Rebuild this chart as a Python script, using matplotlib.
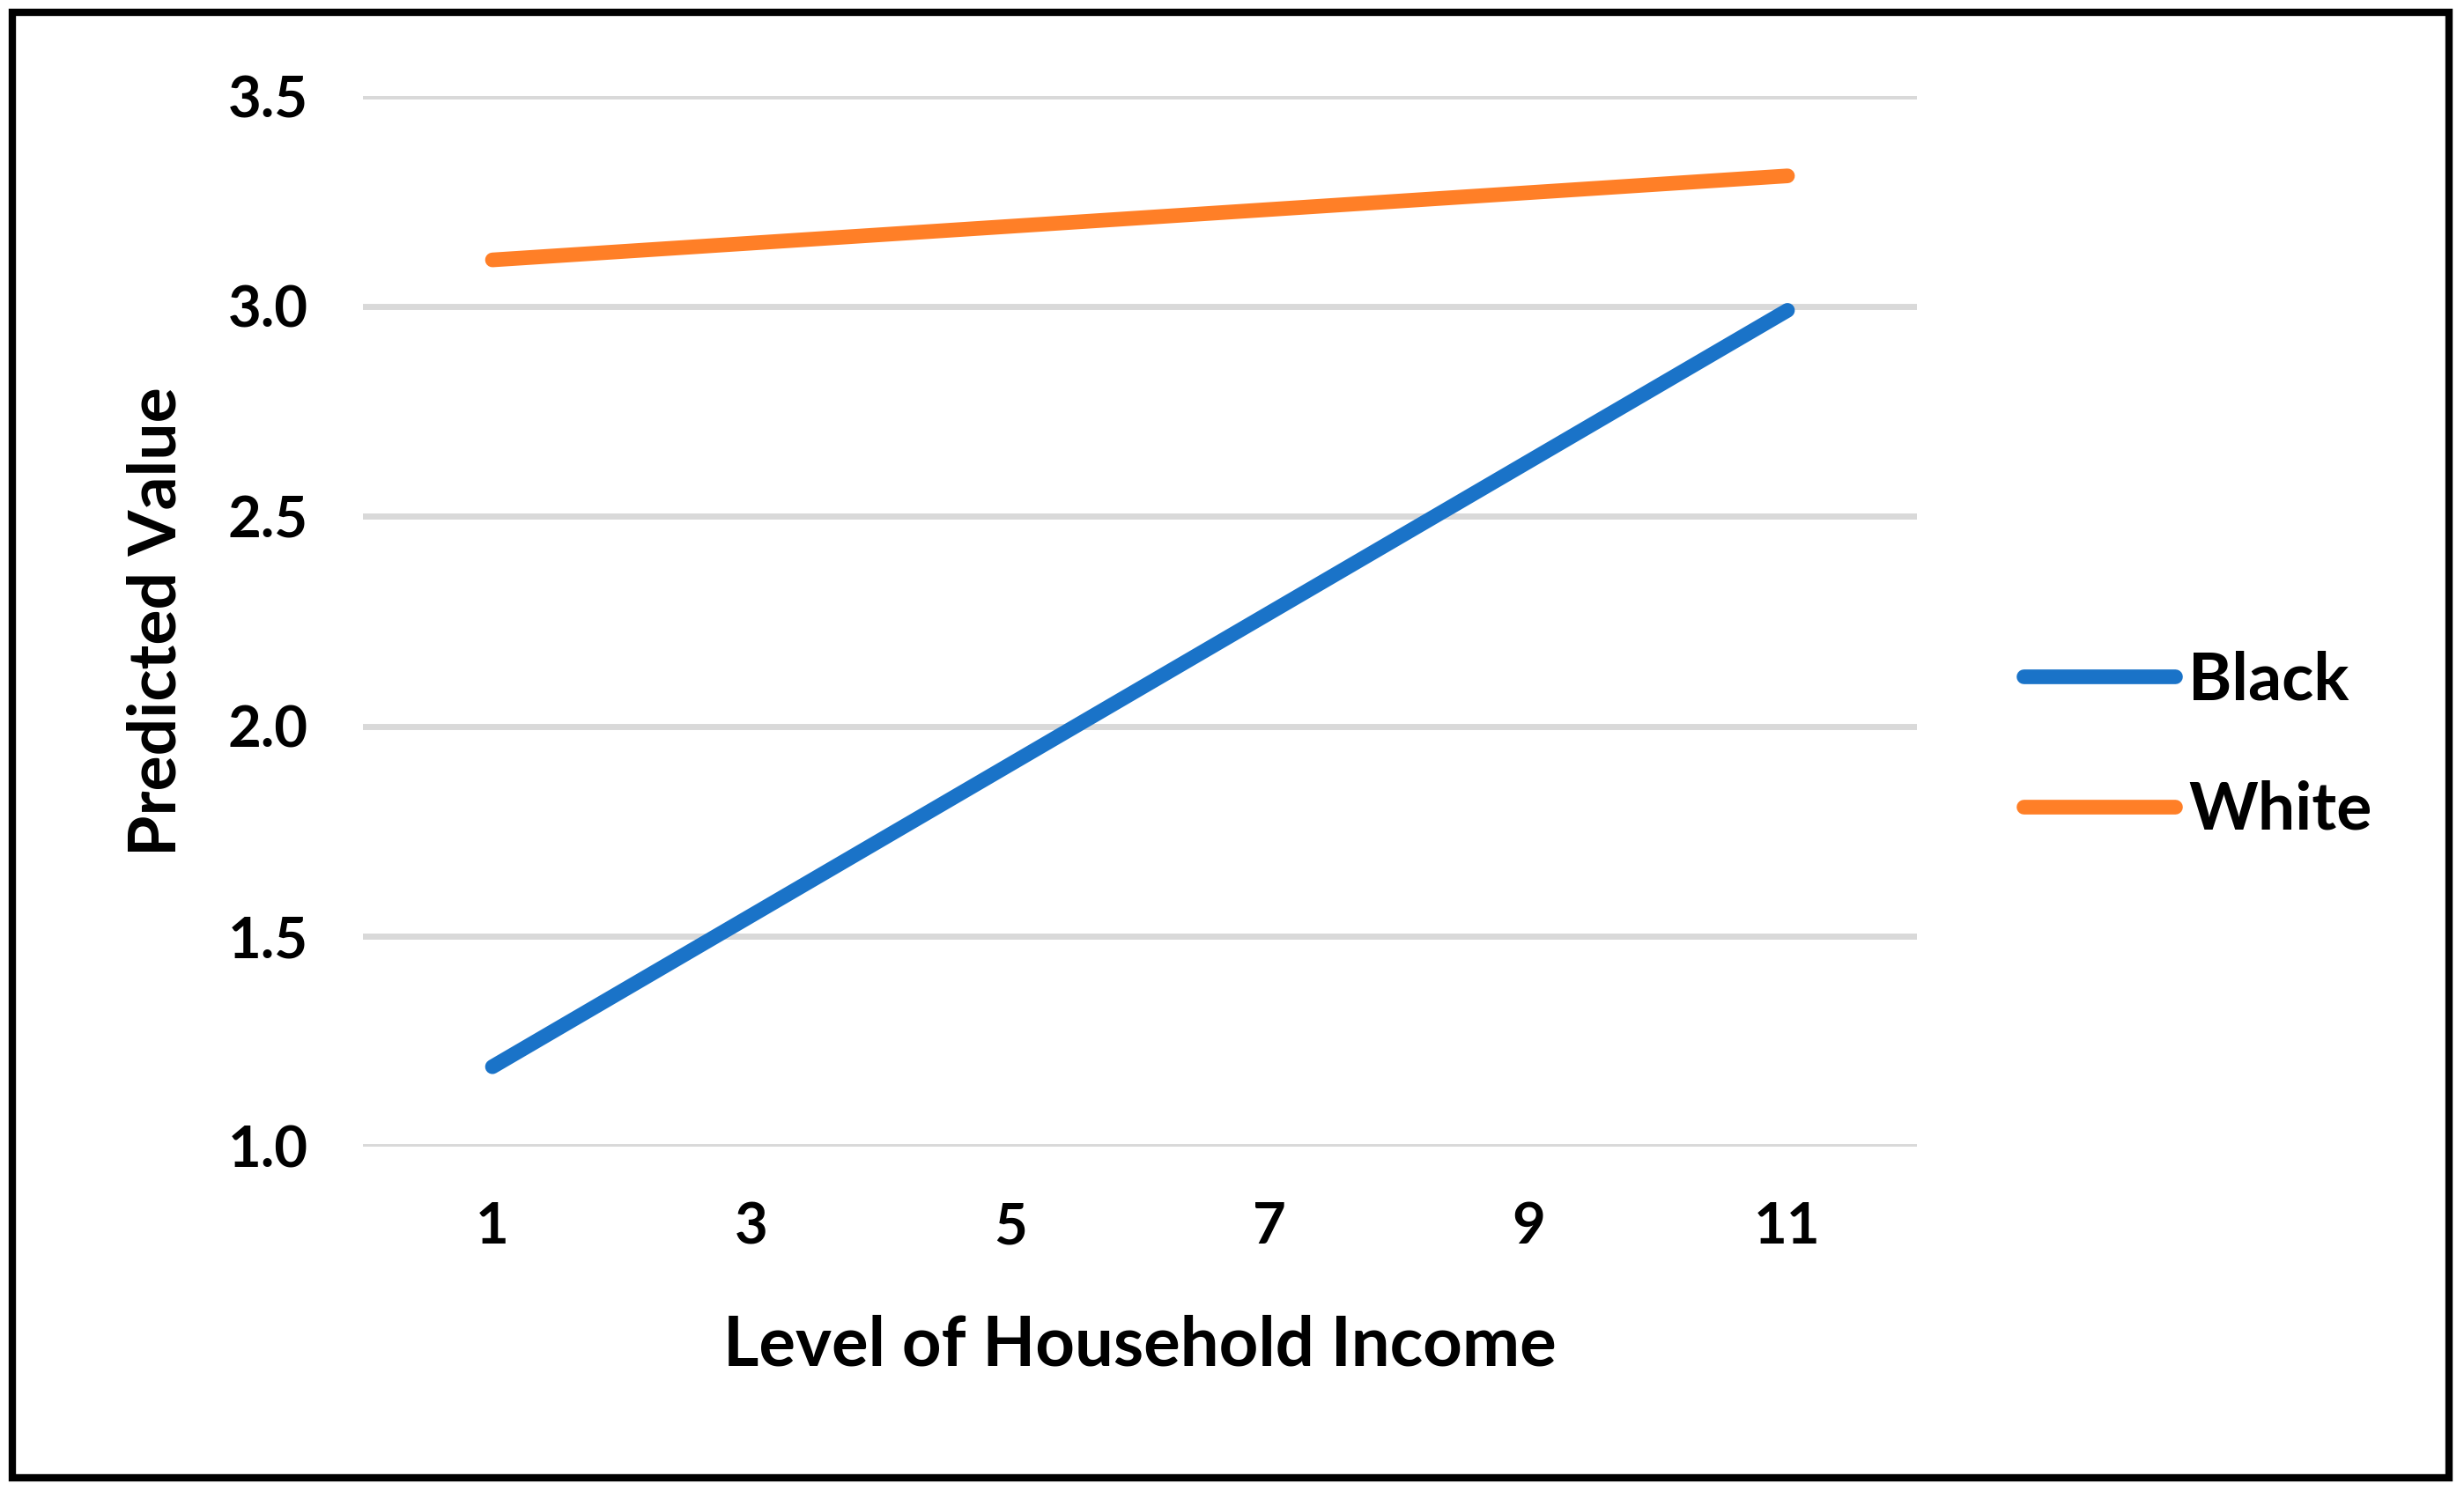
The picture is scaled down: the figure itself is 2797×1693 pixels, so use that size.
import matplotlib
matplotlib.use("Agg")
import matplotlib.pyplot as plt
from matplotlib.patches import Rectangle

# Data
income_levels = ["1", "3", "5", "7", "9", "11"]
black_values = [1.19, 1.55, 1.91, 2.27, 2.63, 2.99]
white_values = [3.11, 3.15, 3.19, 3.23, 3.27, 3.31]
y_ticks = [1.0, 1.5, 2.0, 2.5, 3.0, 3.5]

plt.rcParams['font.family'] = ['Lato', 'DejaVu Sans']
plt.rcParams['font.weight'] = 'bold'

fig = plt.figure(figsize=(27.97, 16.93), dpi=100)
ax = fig.add_axes([0.1473, 0.2310, 0.6307, 0.7046])

x = list(range(len(income_levels)))
ax.plot(x, black_values, color="#1a73c8", lw=12, solid_capstyle="round",
        label="Black", clip_on=False, zorder=3)
ax.plot(x, white_values, color="#ff7f27", lw=12, solid_capstyle="round",
        label="White", clip_on=False, zorder=3)

ax.set_xlim(-0.5, len(income_levels) - 0.5)
ax.set_ylim(1.0, 3.5)
ax.set_xticks(x)
ax.set_xticklabels(income_levels)
ax.set_yticks(y_ticks)
ax.set_yticklabels([f"{v:.1f}" for v in y_ticks])
ax.tick_params(axis="both", length=0, labelsize=47)
ax.tick_params(axis="y", pad=45)
ax.tick_params(axis="x", pad=45)
for s in ax.spines.values():
    s.set_visible(False)
ax.grid(axis="y", color="#d9d9d9", lw=5)
ax.set_axisbelow(True)

ax.set_xlabel("Level of Household Income", fontsize=56, fontweight="bold", labelpad=50)
ax.set_ylabel("Predicted Value", fontsize=54, fontweight="bold", labelpad=33)

ax.legend(loc="center left", bbox_to_anchor=(0.797, 0.5), bbox_transform=fig.transFigure,
          frameon=False, fontsize=54, handlelength=2.3, handletextpad=0.2,
          labelspacing=1.05)

# outer border
fig.patches.append(Rectangle((0.005, 0.009), 0.989, 0.983, transform=fig.transFigure,
                             fill=False, edgecolor="black", lw=6))

fig.savefig("out.png", dpi=100)
